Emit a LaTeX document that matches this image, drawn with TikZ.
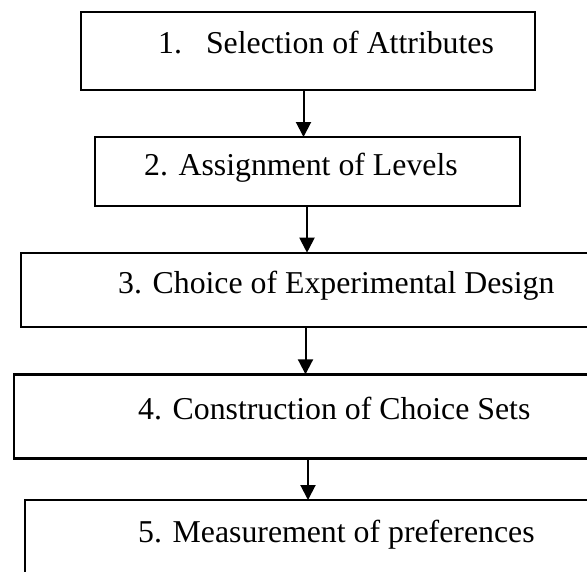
\documentclass[tikz,border=0pt]{standalone}
\usepackage{fontspec}
\setmainfont{Liberation Serif}
\usetikzlibrary{arrows.meta}
\begin{document}
\begin{tikzpicture}[x=1pt,y=-1pt,
  stagebox/.style={draw=black,line width=2.4pt,rectangle,inner sep=0pt,outer sep=0pt,anchor=north west},
  stagetext/.style={anchor=base west,inner sep=0pt,font=\fontsize{31.8}{36}\selectfont},
  flow/.style={draw=black,line width=2pt,-{Triangle[length=15pt,width=15pt]}}]
\useasboundingbox (0,0) rectangle (587,571);
\clip (0,0) rectangle (587,571);
% stage boxes
\node[stagebox,minimum width=454pt,minimum height=78pt] (b1) at (81,12) {};
\node[stagebox,minimum width=425pt,minimum height=69pt] (b2) at (95,137) {};
\node[stagebox,minimum width=600pt,minimum height=74pt] (b3) at (21,252.7) {};
\node[stagebox,minimum width=600pt,minimum height=84pt] (b4) at (14,374.3) {};
\node[stagebox,minimum width=600pt,minimum height=120pt] (b5) at (25,500) {};
% stage labels
\node[stagetext] (t1) at (158,53) {1.\hspace{24pt}Selection of Attributes};
\node[stagetext] (t2) at (144,175) {2. Assignment of Levels};
\node[stagetext] (t3) at (118,293) {3. Choice of Experimental Design};
\node[stagetext] (t4) at (138,419) {4. Construction of Choice Sets};
\node[stagetext] (t5) at (138,542) {5. Measurement of preferences};
% connector columns
\coordinate (c12) at (303.5,0);
\coordinate (c23) at (307,0);
\coordinate (c34) at (305.5,0);
\coordinate (c45) at (308,0);
\draw[flow] (b1.south -| c12) -- (b2.north -| c12);
\draw[flow] (b2.south -| c23) -- (b3.north -| c23);
\draw[flow] (b3.south -| c34) -- (b4.north -| c34);
\draw[flow] (b4.south -| c45) -- (b5.north -| c45);
\end{tikzpicture}
\end{document}
